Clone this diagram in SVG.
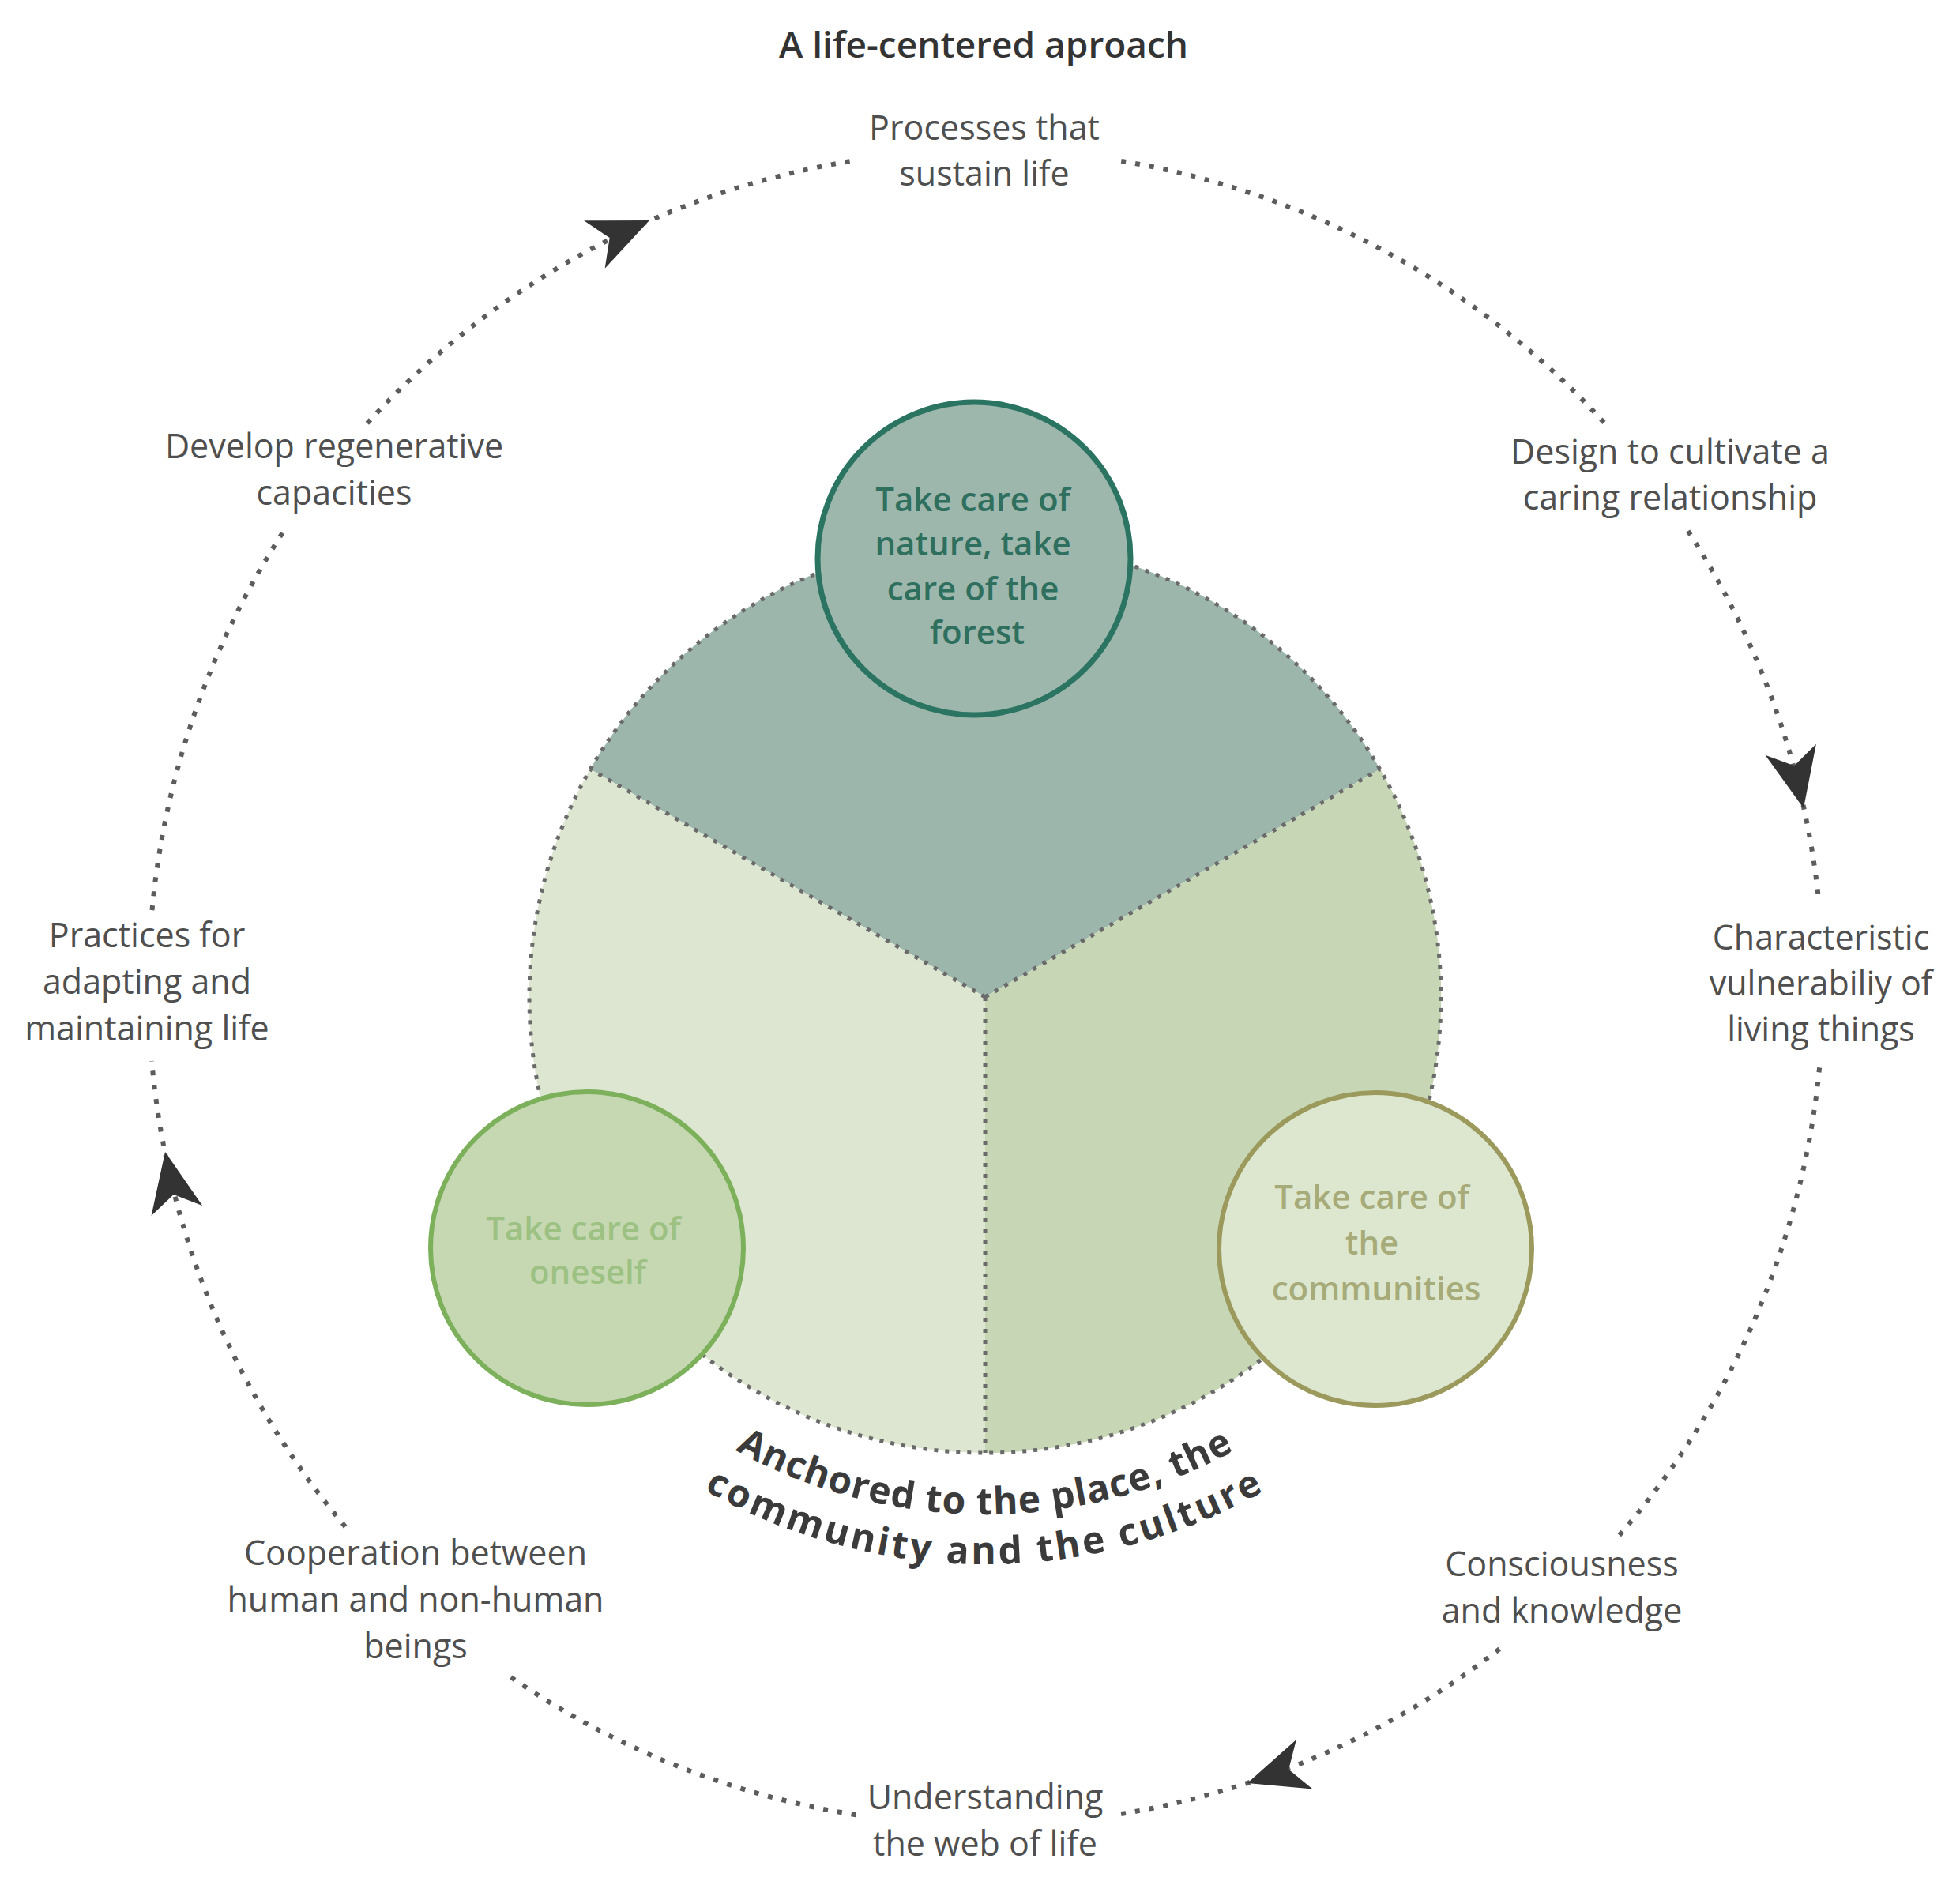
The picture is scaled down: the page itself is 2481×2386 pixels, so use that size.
<svg xmlns="http://www.w3.org/2000/svg" xmlns:xlink="http://www.w3.org/1999/xlink" width="2481" height="2386" viewBox="0 0 2481 2386">
<style>
  .lbl { font-family: 'Open Sans', 'Noto Sans', 'DejaVu Sans', sans-serif; font-size: 43px; fill: #4f4f4f; text-anchor: middle; }
  .title { font-family: 'Open Sans', 'Noto Sans', 'DejaVu Sans', sans-serif; font-size: 46px; font-weight: 600; fill: #333333; text-anchor: middle; }
  .ctext { font-family: 'Open Sans', 'Noto Sans', 'DejaVu Sans', sans-serif; font-size: 42px; font-weight: 600; text-anchor: middle; }
  .arc { font-family: 'Open Sans', 'Noto Sans', 'DejaVu Sans', sans-serif; font-size: 48px; font-weight: 700; fill: #3b3b3b; }
  .ring { fill: none; stroke: #5c5c5c; stroke-width: 6; stroke-dasharray: 6 12; }
  .pdot { fill: none; stroke: #6a6a6a; stroke-width: 5; stroke-dasharray: 5 9; }
  .arrow { fill: #333333; }
</style>
<defs>
  <path id="ah" d="M0,0 L-76,-33 L-55,0 L-76,33 Z"/>
  <path id="arc1" d="M631.5,1486 A655,655 0 0 0 1862.5,1486"/>
  <path id="arc2" d="M572.3,1507.6 A718,718 0 0 0 1921.7,1507.6"/>
</defs>
<rect width="2481" height="2386" fill="#ffffff"/>

<g id="title">
  <text class="title" x="1245" y="73">A life-centered aproach</text>
</g>

<g id="pie">
  <path d="M1247,1262 L747,973.5 A577,577 0 0 1 1747,973.5 Z" fill="#9db6ac"/>
  <path d="M1247,1262 L1247,1839 A577,577 0 0 1 747,973.5 Z" fill="#dde6d0"/>
  <path d="M1247,1262 L1747,973.5 A577,577 0 0 1 1247,1839 Z" fill="#c7d7b5"/>
  <circle class="pdot" cx="1247" cy="1262" r="577"/>
  <path class="pdot" d="M1247,1262 L747,973.5 M1247,1262 L1747,973.5 M1247,1262 L1247,1839"/>
</g>

<g id="connectors">
  <path class="ring" d="M1419.3,203.9 A1060,1060 0 0 1 2036.7,541.8"/>
  <path class="ring" d="M2136.7,672.2 A1060,1060 0 0 1 2302.4,1141.6"/>
  <path class="ring" d="M2303.1,1351.4 A1060,1060 0 0 1 2047.3,1946.1"/>
  <path class="ring" d="M1898.2,2087.2 A1060,1060 0 0 1 1417.6,2296.3"/>
  <path class="ring" d="M1083.5,2297.2 A1060,1060 0 0 1 637.2,2116.3"/>
  <path class="ring" d="M437.1,1932.5 A1060,1060 0 0 1 192.1,1343.1"/>
  <path class="ring" d="M192.5,1152.1 A1060,1060 0 0 1 363.3,665.9"/>
  <path class="ring" d="M464.8,535.8 A1060,1060 0 0 1 1082.9,203.0"/>
  <use href="#ah" xlink:href="#ah" class="arrow" transform="translate(822,279) rotate(-23.7)"/>
  <use href="#ah" xlink:href="#ah" class="arrow" transform="translate(2283,1023) rotate(77.6)"/>
  <use href="#ah" xlink:href="#ah" class="arrow" transform="translate(1579,2257) rotate(161.8)"/>
  <use href="#ah" xlink:href="#ah" class="arrow" transform="translate(209,1458) rotate(-101.3)"/>
</g>

<g id="node-nature">
  <circle cx="1233" cy="707" r="198" fill="#9eb7ad" stroke="#2b7462" stroke-width="7"/>
  <text class="ctext" fill="#2f6f5e">
    <tspan x="1237" y="647">Take care of</tspan>
    <tspan x="1237" y="703">nature, take</tspan>
    <tspan x="1237" y="760">care of the</tspan>
    <tspan x="1237" y="815">forest</tspan>
  </text>
</g>

<g id="node-oneself">
  <circle cx="743" cy="1580" r="198" fill="#c5d8b2" stroke="#7cb05b" stroke-width="6"/>
  <text class="ctext" fill="#9cc183">
    <tspan x="744" y="1570">Take care of</tspan>
    <tspan x="744" y="1625">oneself</tspan>
  </text>
</g>

<g id="node-communities">
  <circle cx="1741" cy="1581" r="198" fill="#dde7cf" stroke="#9b9a5c" stroke-width="6"/>
  <text class="ctext" fill="#a6ab79">
    <tspan x="1742" y="1530">Take care of</tspan>
    <tspan x="1742" y="1588">the</tspan>
    <tspan x="1742" y="1646">communities</tspan>
  </text>
</g>

<g id="anchored">
  <text class="arc" letter-spacing="1"><textPath href="#arc1" xlink:href="#arc1" startOffset="50%" text-anchor="middle">Anchored to the place, the</textPath></text>
  <text class="arc" letter-spacing="3.5"><textPath href="#arc2" xlink:href="#arc2" startOffset="50%" text-anchor="middle">community and the culture</textPath></text>
</g>

<g id="label-processes">
  <text class="lbl"><tspan x="1246" y="177">Processes that</tspan><tspan x="1246" y="235">sustain life</tspan></text>
</g>
<g id="label-design">
  <text class="lbl"><tspan x="2114" y="587">Design to cultivate a</tspan><tspan x="2114" y="645">caring relationship</tspan></text>
</g>
<g id="label-characteristic">
  <text class="lbl"><tspan x="2305" y="1202">Characteristic</tspan><tspan x="2305" y="1260">vulnerabiliy of</tspan><tspan x="2305" y="1318">living things</tspan></text>
</g>
<g id="label-consciousness">
  <text class="lbl"><tspan x="1977" y="1995">Consciousness</tspan><tspan x="1977" y="2054">and knowledge</tspan></text>
</g>
<g id="label-understanding">
  <text class="lbl"><tspan x="1247" y="2290">Understanding</tspan><tspan x="1247" y="2349">the web of life</tspan></text>
</g>
<g id="label-cooperation">
  <text class="lbl"><tspan x="526" y="1981">Cooperation between</tspan><tspan x="526" y="2040">human and non-human</tspan><tspan x="526" y="2099">beings</tspan></text>
</g>
<g id="label-practices">
  <text class="lbl"><tspan x="186" y="1199">Practices for</tspan><tspan x="186" y="1258">adapting and</tspan><tspan x="186" y="1317">maintaining life</tspan></text>
</g>
<g id="label-develop">
  <text class="lbl"><tspan x="423" y="580">Develop regenerative</tspan><tspan x="423" y="639">capacities</tspan></text>
</g>
</svg>
